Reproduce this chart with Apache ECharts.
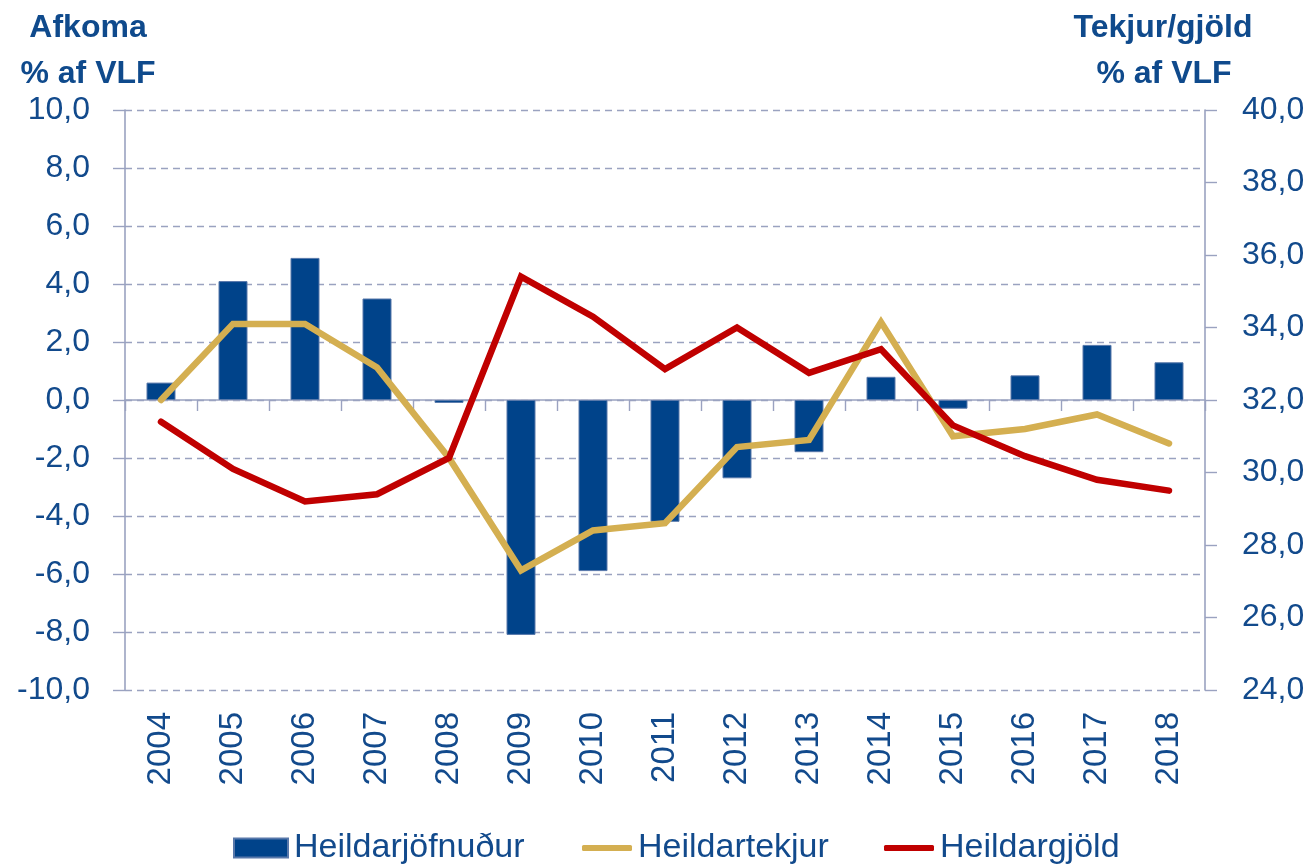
<!DOCTYPE html>
<html>
<head>
<meta charset="utf-8">
<script src="https://cdn.jsdelivr.net/npm/echarts@6/dist/echarts.min.js"></script>
<style>
html,body{margin:0;padding:0;background:#fff;}
#chart{width:1314px;height:866px;}
</style>
</head>
<body>
<div id="chart"></div>
<script>
// ---- data ----
const years = ['2004','2005','2006','2007','2008','2009','2010','2011','2012','2013','2014','2015','2016','2017','2018'];
const afkoma = [0.6, 4.1, 4.9, 3.5, -0.1, -8.1, -5.9, -4.2, -2.7, -1.8, 0.8, -0.3, 0.85, 1.9, 1.3];
const tekjur = [32.0, 34.1, 34.1, 32.9, 30.4, 27.3, 28.4, 28.6, 30.7, 30.9, 34.15, 31.0, 31.2, 31.6, 30.8];
const gjold = [31.4, 30.1, 29.2, 29.4, 30.4, 35.4, 34.3, 32.85, 34.0, 32.75, 33.4, 31.3, 30.45, 29.8, 29.5];
const seriesNames = ['Heildarjöfnuður', 'Heildartekjur', 'Heildargjöld'];
const leftTitle = ['Afkoma', '% af VLF'];
const rightTitle = ['Tekjur/gjöld', '% af VLF'];

const FONT = "'Liberation Sans', Arial, sans-serif";
const TXT = '#124A8C';
const AX = '#9AA2C0';
const BLUE = '#00438A', GOLD = '#D4AF51', RED = '#C00000';
const fmt = v => v.toFixed(1).replace('.', ',');

const chart = echarts.init(document.getElementById('chart'), null, {renderer: 'canvas'});
const titleStyle = (text, x, y) => ({
  type: 'text',
  style: {text: text, x: x, y: y, align: 'center', verticalAlign: 'middle',
          fontFamily: FONT, fontSize: 32, fontWeight: 'bold', fill: '#0F4A8C'}
});
const legendBase = {
  top: 828, padding: 0, orient: 'horizontal', selectedMode: false,
  textStyle: {fontFamily: FONT, fontSize: 34, color: TXT, lineHeight: 40, padding: [0,0,0,1]}
};
chart.setOption({
  animation: false,
  backgroundColor: '#ffffff',
  graphic: [
    titleStyle(leftTitle[0], 88, 28),
    titleStyle(leftTitle[1], 88, 74),
    titleStyle(rightTitle[0], 1163, 28),
    titleStyle(rightTitle[1], 1164, 74)
  ],
  legend: [
    Object.assign({}, legendBase, {left: 233, itemWidth: 54, itemHeight: 19,
      data: [{name: seriesNames[0], icon: 'rect'}]}),
    Object.assign({}, legendBase, {left: 582, itemWidth: 50, itemHeight: 6,
      data: [{name: seriesNames[1], icon: 'roundRect', itemStyle: {color: GOLD}}]}),
    Object.assign({}, legendBase, {left: 884, itemWidth: 50, itemHeight: 6,
      data: [{name: seriesNames[2], icon: 'roundRect', itemStyle: {color: RED}}]})
  ],
  grid: {left: 125, right: 109, top: 110, bottom: 176, containLabel: false, outerBoundsMode: 'none'},
  xAxis: [
    {
      type: 'category', data: years, position: 'bottom',
      axisLine: {show: false, onZero: false},
      axisTick: {show: false},
      axisLabel: {rotate: 90, margin: 22, fontFamily: FONT, fontSize: 33, color: TXT, interval: 0}
    },
    {
      type: 'category', data: years, position: 'bottom',
      axisLine: {show: true, onZero: true, onZeroAxisIndex: 0, lineStyle: {color: AX, width: 1.6}},
      axisTick: {show: true, length: 11, lineStyle: {color: AX, width: 1.4}},
      axisLabel: {show: false}
    }
  ],
  yAxis: [
    {
      type: 'value', min: -10, max: 10, interval: 2, position: 'left',
      axisLine: {show: true, lineStyle: {color: AX, width: 1.6}},
      axisTick: {show: true, length: 12, lineStyle: {color: AX, width: 1.4}},
      axisLabel: {margin: 35, fontFamily: FONT, fontSize: 32, color: TXT, formatter: fmt},
      splitLine: {show: true, lineStyle: {color: AX, width: 1.4, type: [7, 5]}}
    },
    {
      type: 'value', min: 24, max: 40, interval: 2, position: 'right',
      axisLine: {show: true, lineStyle: {color: AX, width: 1.6}},
      axisTick: {show: true, length: 12, lineStyle: {color: AX, width: 1.4}},
      axisLabel: {margin: 37, fontFamily: FONT, fontSize: 32, color: TXT, formatter: fmt},
      splitLine: {show: false}
    }
  ],
  series: [
    {
      name: seriesNames[0], type: 'bar', data: afkoma, xAxisIndex: 0, yAxisIndex: 0,
      barWidth: 29,
      itemStyle: {color: BLUE, borderColor: '#5878AA', borderWidth: 1}
    },
    {
      name: seriesNames[1], type: 'line', data: tekjur, xAxisIndex: 0, yAxisIndex: 1,
      symbol: 'none', showSymbol: false, z: 3,
      lineStyle: {color: GOLD, width: 6.5, cap: 'round', join: 'miter'},
      itemStyle: {color: GOLD}
    },
    {
      name: seriesNames[2], type: 'line', data: gjold, xAxisIndex: 0, yAxisIndex: 1,
      symbol: 'none', showSymbol: false, z: 4,
      lineStyle: {color: RED, width: 6.5, cap: 'round', join: 'miter'},
      itemStyle: {color: RED}
    }
  ]
});
</script>
</body>
</html>
